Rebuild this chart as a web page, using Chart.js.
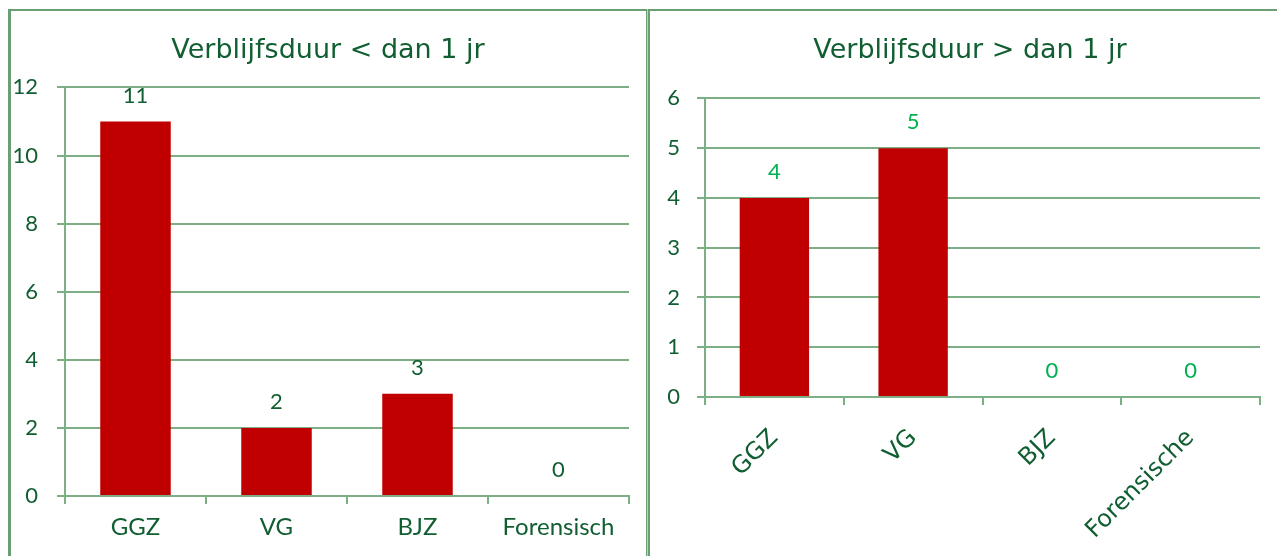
<!DOCTYPE html>
<html>
<head>
<meta charset="utf-8">
<script src="https://cdn.jsdelivr.net/npm/chart.js@4/dist/chart.umd.min.js"></script>
<style>
  html, body { margin: 0; padding: 0; background: #fff; width: 1277px; height: 556px; overflow: hidden; position: relative; }
  .line { position: absolute; background: #6a9f73; }
  .wrap { position: absolute; }
</style>
</head>
<body>
<div class="line" style="left:8px; top:9px; width:1269px; height:2px;"></div>
<div class="line" style="left:8px; top:9px; width:3px; height:547px;"></div>
<div class="line" style="left:646px; top:9px; width:4px; height:547px; background: linear-gradient(to right, #6a9f73 0 1.5px, #b9d6bd 1.5px 2.5px, #6a9f73 2.5px 4px);"></div>

<div class="wrap" style="left:10px; top:10px; width:636px; height:546px;"><canvas id="c1"></canvas></div>
<div class="wrap" style="left:650px; top:10px; width:640px; height:546px;"><canvas id="c2"></canvas></div>

<script>
// ---- data ----
const categoriesShort = ["GGZ", "VG", "BJZ", "Forensisch"];
const valuesShort = [11, 2, 3, 0];
const titleShort = "Verblijfsduur < dan 1 jr";

const categoriesLong = ["GGZ", "VG", "BJZ", "Forensische"];
const valuesLong = [4, 5, 0, 0];
const titleLong = "Verblijfsduur > dan 1 jr";

// ---- styling ----
const BAR = "#c00000";
const GRID = "#7daf86";
const TEXT = "#105e31";
const TITLE_FONT = "'DejaVu Sans', sans-serif";
const TICK_FONT = "Lato, 'Open Sans', sans-serif";

const valueLabels = {
  id: 'valueLabels',
  afterLayout(chart) {
    // center the title over the whole panel (not only the padded area)
    const tb = chart.titleBlock;
    if (tb) { tb.left = 0; tb.right = chart.width; tb.width = chart.width; }
  },
  afterDatasetsDraw(chart, args, opts) {
    const ctx = chart.ctx;
    ctx.save();
    ctx.font = `${opts.size}px ${TICK_FONT}`;
    ctx.fillStyle = opts.color;
    ctx.textAlign = 'center';
    ctx.textBaseline = 'middle';
    chart.data.datasets.forEach((ds, i) => {
      const meta = chart.getDatasetMeta(i);
      meta.data.forEach((el, j) => {
        ctx.fillText(String(ds.data[j]), el.x, el.y - opts.offset);
      });
    });
    ctx.restore();
  }
};

function makeChart(id, labels, values, title, cfg) {
  return new Chart(document.getElementById(id), {
    type: 'bar',
    data: {
      labels: labels,
      datasets: [{ data: values, backgroundColor: BAR, borderWidth: 0, barPercentage: 0.5, categoryPercentage: 1.0 }]
    },
    options: {
      responsive: true,
      maintainAspectRatio: false,
      animation: false,
      layout: { padding: { left: 0, right: cfg.padRight, top: 0, bottom: 0 } },
      plugins: {
        legend: { display: false },
        tooltip: { enabled: false },
        title: {
          display: true, text: title, color: TEXT,
          font: { family: TITLE_FONT, size: 27, weight: 'normal' },
          padding: { top: 25, bottom: cfg.titleBottom }
        },
        valueLabels: { color: cfg.labelColor, size: 22, offset: 26 }
      },
      scales: {
        x: {
          grid: { drawOnChartArea: false, drawTicks: true, tickLength: 8, color: GRID, lineWidth: 2, offset: true },
          border: { display: true, color: GRID, width: 2 },
          ticks: {
            color: TEXT, font: cfg.xFont, padding: cfg.xPad,
            minRotation: cfg.rot, maxRotation: cfg.rot, autoSkip: false
          },
          afterFit(scale) { scale.height = cfg.xHeight; }
        },
        y: {
          min: 0, max: cfg.max,
          grid: { color: GRID, lineWidth: 2, tickLength: 8, drawTicks: true },
          border: { display: true, color: GRID, width: 2 },
          ticks: { stepSize: cfg.step, color: TEXT, font: { family: TICK_FONT, size: 22 }, padding: cfg.yPad },
          afterFit(scale) { scale.width = 55; }
        }
      }
    },
    plugins: [valueLabels]
  });
}

makeChart('c1', categoriesShort, valuesShort, titleShort, {
  padRight: 17, titleBottom: 20, labelColor: TEXT, max: 12, step: 2,
  xFont: { family: TICK_FONT, size: 24 }, xPad: 9, rot: 0, xHeight: 60, yPad: 19
});
makeChart('c2', categoriesLong, valuesLong, titleLong, {
  padRight: 30, titleBottom: 31, labelColor: "#00b050", max: 6, step: 1,
  xFont: { family: TITLE_FONT, size: 24 }, xPad: 19, rot: 45, xHeight: 159, yPad: 17
});
</script>
</body>
</html>
